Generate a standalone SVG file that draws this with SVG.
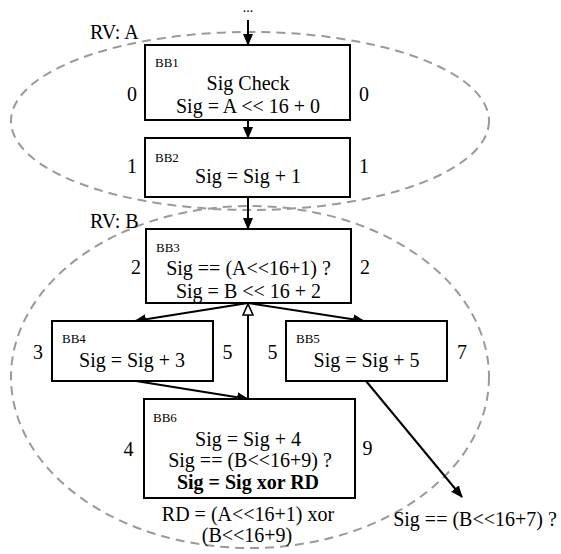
<svg xmlns="http://www.w3.org/2000/svg" width="561" height="554" viewBox="0 0 561 554" font-family="'Liberation Serif', 'DejaVu Serif', 'Times New Roman', serif">
  <style>
    text { font-family: "Liberation Serif", "DejaVu Serif", "Times New Roman", serif; fill: #000; }
    .t { font-size: 20px; text-anchor: middle; }
    .b { font-size: 13px; }
    .n { font-size: 20px; text-anchor: middle; }
    .bold { font-weight: bold; }
    .box { fill: #fff; stroke: #000; stroke-width: 2; }
    .rv { fill: none; stroke: #9a9a9a; stroke-width: 2; stroke-dasharray: 9 6; }
    .edge { fill: none; stroke: #000; stroke-width: 2; }
  </style>
  <defs>
    <marker id="arrow" markerUnits="userSpaceOnUse" markerWidth="12" markerHeight="10" refX="11" refY="5" orient="auto">
      <path d="M0,0 L12,5 L0,10 z" fill="#000"/>
    </marker>
    <marker id="hollow" markerUnits="userSpaceOnUse" markerWidth="14" markerHeight="12" refX="1" refY="6" orient="auto">
      <path d="M1,1 L12,6 L1,11 z" fill="#fff" stroke="#000" stroke-width="1.6"/>
    </marker>
  </defs>

  <rect width="561" height="554" fill="#fff"/>

  <!-- region boundaries -->
  <g id="regions">
    <ellipse class="rv" cx="250" cy="121" rx="239" ry="89"/>
    <ellipse class="rv" cx="250" cy="377" rx="239" ry="171"/>
    <text x="90" y="39" font-size="20">RV: A</text>
    <text x="90" y="228" font-size="20">RV: B</text>
  </g>

  <!-- connectors -->
  <g id="connectors">
    <text x="248" y="12" font-size="14" text-anchor="middle">...</text>
    <line class="edge" x1="248" y1="20" x2="248" y2="45" marker-end="url(#arrow)"/>
    <line class="edge" x1="248" y1="120" x2="248" y2="138" marker-end="url(#arrow)"/>
    <line class="edge" x1="248" y1="197" x2="248" y2="229" marker-end="url(#arrow)"/>
    <line class="edge" x1="248" y1="303" x2="135" y2="321" marker-end="url(#arrow)"/>
    <line class="edge" x1="248" y1="303" x2="364" y2="321" marker-end="url(#arrow)"/>
    <line class="edge" x1="136" y1="381" x2="248" y2="399" marker-end="url(#arrow)"/>
    <line class="edge" x1="248" y1="399" x2="248" y2="315" marker-end="url(#hollow)"/>
    <line class="edge" x1="366" y1="381" x2="462" y2="497" marker-end="url(#arrow)"/>
  </g>

  <g id="BB1">
    <rect class="box" x="145" y="45" width="205" height="75"/>
    <text class="b" x="155" y="67">BB1</text>
    <text class="t" x="248" y="90">Sig Check</text>
    <text class="t" x="248" y="113">Sig = A &lt;&lt; 16 + 0</text>
    <text class="n" x="132" y="101">0</text>
    <text class="n" x="364" y="101">0</text>
  </g>

  <g id="BB2">
    <rect class="box" x="145" y="138" width="205" height="59"/>
    <text class="b" x="155" y="162">BB2</text>
    <text class="t" x="248" y="183">Sig = Sig + 1</text>
    <text class="n" x="132" y="173">1</text>
    <text class="n" x="364" y="173">1</text>
  </g>

  <g id="BB3">
    <rect class="box" x="146" y="229" width="205" height="74"/>
    <text class="b" x="156" y="252">BB3</text>
    <text class="t" x="248.5" y="275">Sig == (A&lt;&lt;16+1) ?</text>
    <text class="t" x="248.5" y="298">Sig = B &lt;&lt; 16 + 2</text>
    <text class="n" x="136" y="274">2</text>
    <text class="n" x="365" y="274">2</text>
  </g>

  <g id="BB4">
    <rect class="box" x="52" y="321" width="161" height="60"/>
    <text class="b" x="62" y="343">BB4</text>
    <text class="t" x="132" y="367">Sig = Sig + 3</text>
    <text class="n" x="38" y="359">3</text>
    <text class="n" x="227.5" y="359">5</text>
  </g>

  <g id="BB5">
    <rect class="box" x="286" y="321" width="161" height="60"/>
    <text class="b" x="296" y="343">BB5</text>
    <text class="t" x="366.5" y="367">Sig = Sig + 5</text>
    <text class="n" x="272.5" y="359">5</text>
    <text class="n" x="462" y="359">7</text>
  </g>

  <g id="BB6">
    <rect class="box" x="144" y="399" width="211" height="99"/>
    <text class="b" x="153" y="422">BB6</text>
    <text class="t" x="248" y="446">Sig = Sig + 4</text>
    <text class="t" x="250" y="467">Sig == (B&lt;&lt;16+9) ?</text>
    <text class="t bold" x="248" y="489">Sig = Sig xor RD</text>
    <text class="t" x="248" y="521">RD = (A&lt;&lt;16+1) xor</text>
    <text class="t" x="247" y="542">(B&lt;&lt;16+9)</text>
    <text class="n" x="128.5" y="456">4</text>
    <text class="n" x="367.5" y="455">9</text>
  </g>

  <g id="check">
    <text class="t" x="475" y="526">Sig == (B&lt;&lt;16+7) ?</text>
  </g>
</svg>
